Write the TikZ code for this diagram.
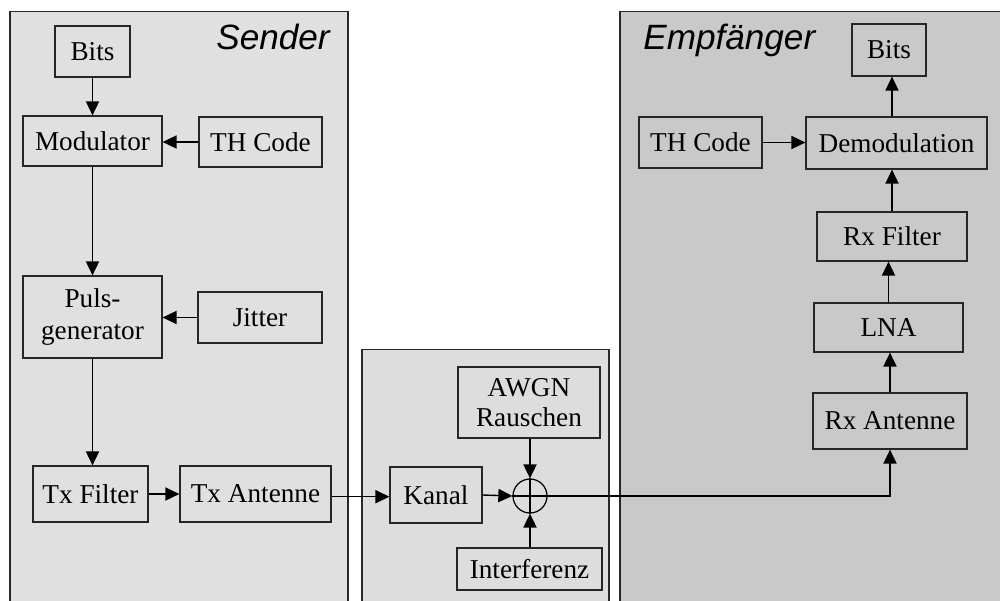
\documentclass[tikz,border=0pt]{standalone}
\usepackage{fontspec}
\setmainfont{Liberation Serif}
\newfontfamily\headsans{Liberation Sans}
\usetikzlibrary{arrows.meta}
\newdimen\pxu \pxu=0.02cm
\definecolor{txpanel}{RGB}{224,224,224}
\definecolor{chpanel}{RGB}{221,221,221}
\definecolor{rxpanel}{RGB}{201,201,201}
\definecolor{edge}{RGB}{40,40,40}
\tikzset{
  panelline/.style={draw=edge, line width=0.85pt},
  blk/.style={draw=black!85, line width=0.7pt, rectangle, inner sep=0pt, align=center,
    font=\fontsize{15.5}{18}\selectfont},
  arr/.style={draw=black, line width=0.8pt, -{Triangle[length=8pt,width=7.5pt]}},
  wire/.style={draw=black, line width=0.75pt},
  heading/.style={font=\headsans\itshape\fontsize{20}{23}\selectfont, inner sep=0pt}
}
\begin{document}
\begin{tikzpicture}[x=0.02cm, y=-0.02cm]
\useasboundingbox (0,0) rectangle (1000,601);

% panels
\fill[txpanel] (10,11.5) rectangle (348,601);
\draw[panelline] (10,601) -- (10,11.5) -- (348,11.5) -- (348,601);
\fill[chpanel] (362,349.5) rectangle (609,601);
\draw[panelline] (362,601) -- (362,349.5) -- (609,349.5) -- (609,601);
\fill[rxpanel] (620,11.5) rectangle (1000,601);
\draw[panelline] (620,601) -- (620,11.5) -- (1000,11.5);

\node[heading, anchor=base east] (lsend) at (330,50) {Sender};
\node[heading, anchor=base west] (lrecv) at (643,50) {Empfänger};

% transmitter
\node[blk, minimum width=75\pxu, minimum height=51\pxu] (sbits) at (92.5,51.5) {Bits};
\node[blk, minimum width=139\pxu, minimum height=50\pxu] (mod) at (92.5,141) {Modulator};
\node[blk, minimum width=123\pxu, minimum height=50\pxu] (sth) at (260.5,142) {TH Code};
\node[blk, minimum width=139\pxu, minimum height=82\pxu] (puls) at (92.5,317) {Puls-\\generator};
\node[blk, minimum width=124\pxu, minimum height=51\pxu] (jit) at (260,317.5) {Jitter};
\node[blk, minimum width=115\pxu, minimum height=56\pxu] (txf) at (90.5,494) {Tx Filter};
\node[blk, minimum width=151\pxu, minimum height=56\pxu] (txa) at (255.5,494) {Tx Antenne};

% channel
\node[blk, font=\fontsize{15.5}{17.5}\selectfont, minimum width=142\pxu, minimum height=71\pxu] (awgn) at (529,402.5) {AWGN\\Rauschen};
\node[blk, minimum width=92\pxu, minimum height=56\pxu] (kanal) at (436,495) {Kanal};
\node[blk, minimum width=145\pxu, minimum height=42\pxu] (intf) at (529.5,569) {Interferenz};
\node[circle, draw=black, line width=0.7pt, minimum size=34\pxu, inner sep=0pt] (sum) at (530,496) {};
\draw[wire] (sum.north) -- (sum.south);
\draw[wire] (sum.west) -- (sum.east);

% receiver
\node[blk, minimum width=74\pxu, minimum height=52\pxu] (rbits) at (889,50) {Bits};
\node[blk, minimum width=123\pxu, minimum height=51\pxu] (rth) at (700.5,142.5) {TH Code};
\node[blk, minimum width=181\pxu, minimum height=52\pxu] (demod) at (896.5,143) {Demodulation};
\node[blk, minimum width=150\pxu, minimum height=49\pxu] (rxf) at (892,236.5) {Rx Filter};
\node[blk, minimum width=149\pxu, minimum height=49\pxu] (lna) at (888.5,327.5) {LNA};
\node[blk, minimum width=154\pxu, minimum height=56\pxu] (rxa) at (890,421) {Rx Antenne};

% transmitter connections
\draw[arr] (sbits.south) -- (sbits.south |- mod.north);
\draw[arr] (sth.west) -- (sth.west -| mod.east);
\draw[arr] (mod.south) -- (mod.south |- puls.north);
\draw[arr] (jit.west) -- (jit.west -| puls.east);
\draw[arr] (puls.south) -- (puls.south |- txf.north);
\draw[arr] (txf.east) -- (txf.east -| txa.west);
\draw[arr] ([yshift=-2.7\pxu]txa.east) -- ([yshift=-2.7\pxu]txa.east -| kanal.west);

% channel connections
\draw[arr] (kanal.east) -- (sum.west);
\draw[arr] (awgn.south -| sum.north) -- (sum.north);
\draw[arr] (intf.north -| sum.south) -- (sum.south);
\draw[arr] (sum.east) -| (rxa.south);

% receiver connections
\draw[arr] (rxa.north) -- (rxa.north |- lna.south);
\draw[arr] (lna.north) -- (lna.north |- rxf.south);
\draw[arr] (rxf.north) -- (rxf.north |- demod.south);
\draw[arr] (rxf.north |- demod.north) -- (rxf.north |- rbits.south);
\draw[arr] (rth.east) -- (rth.east -| demod.west);
\end{tikzpicture}
\end{document}
